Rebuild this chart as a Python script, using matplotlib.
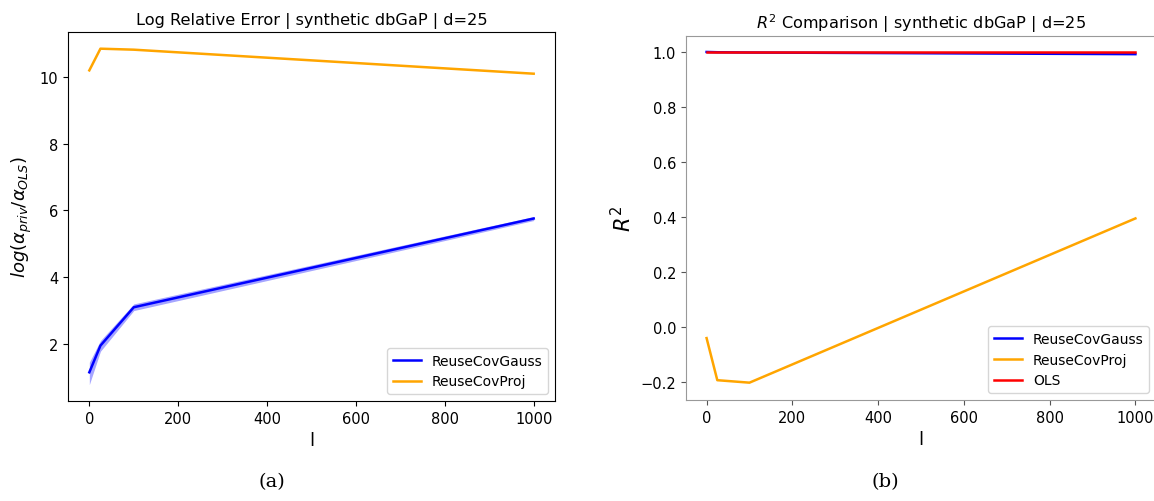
import matplotlib.pyplot as plt
import numpy as np

l_vals = [0, 25, 100, 1000]

# log relative error
gauss_err = [1.15, 1.95, 3.1, 5.76]
gauss_err_lo = [0.78, 1.78, 3.0, 5.7]
gauss_err_hi = [1.45, 2.1, 3.2, 5.82]
proj_err = [10.2, 10.85, 10.82, 10.1]

# R^2
gauss_r2 = [1.0, 0.999, 0.998, 0.992]
proj_r2 = [-0.04, -0.193, -0.202, 0.395]
ols_r2 = [1.0, 1.0, 1.0, 1.0]

fig = plt.figure(figsize=(11.54, 5.02), dpi=100)
ax1 = fig.add_axes([68/1154, 1 - 402/502, 487/1154, 369/502])
ax2 = fig.add_axes([686/1154, 1 - 401/502, 470/1154, 364/502])

ax1.plot(l_vals, gauss_err, color='blue', lw=1.8, label='ReuseCovGauss')
ax1.fill_between(l_vals, gauss_err_lo, gauss_err_hi, color='blue', alpha=0.35, lw=0)
ax1.plot(l_vals, proj_err, color='orange', lw=1.8, label='ReuseCovProj')
ax1.set_title('Log Relative Error | synthetic dbGaP | d=25', fontsize=11.6)
ax1.set_xlabel('l', fontsize=13)
ax1.set_ylabel(r'$log(\alpha_{priv}/\alpha_{OLS})$', fontsize=13)
ax1.set_ylim(0.29, 11.35)
ax1.set_xlim(-48, 1048)
ax1.set_yticks([2, 4, 6, 8, 10])
ax1.tick_params(labelsize=10.5)
ax1.legend(loc='lower right', fontsize=10)

ax2.plot(l_vals, gauss_r2, color='blue', lw=1.8, label='ReuseCovGauss')
ax2.plot(l_vals, proj_r2, color='orange', lw=1.8, label='ReuseCovProj')
ax2.plot(l_vals, ols_r2, color='red', lw=1.8, label='OLS')
ax2.set_title(r'$R^2$ Comparison | synthetic dbGaP | d=25', fontsize=11.6)
ax2.set_xlabel('l', fontsize=13)
ax2.set_ylabel(r'$R^2$', fontsize=15)
ax2.set_ylim(-0.265, 1.058)
ax2.set_xlim(-48, 1048)
ax2.tick_params(labelsize=10.5, color='#555555')
for s in ax2.spines.values():
    s.set_color('#999999')
ax2.legend(loc='lower right', fontsize=10)

fig.text(272/1154, 0.03, '(a)', family='DejaVu Serif', fontsize=14, ha='center')
fig.text(885/1154, 0.03, '(b)', family='DejaVu Serif', fontsize=14, ha='center')

fig.savefig('out.png', dpi=100)
